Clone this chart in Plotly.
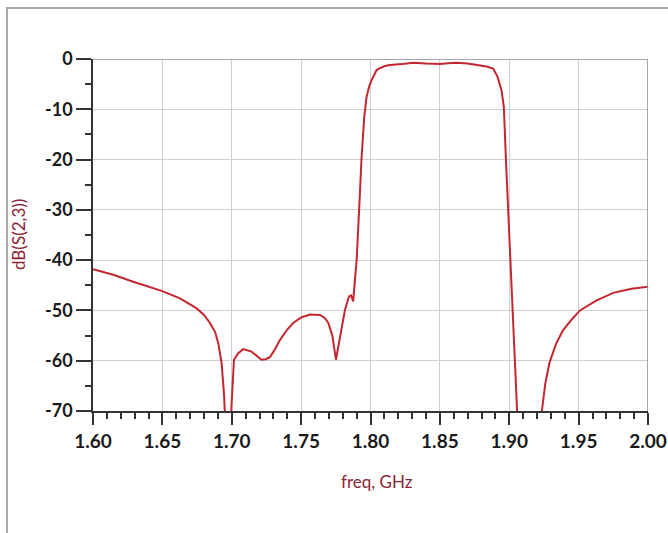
import plotly.graph_objects as go

freq = [1.6000, 1.6146, 1.6290, 1.6400, 1.6495, 1.6627, 1.6747, 1.6800, 1.6843, 1.6880, 1.6903,
        1.6927, 1.6945, 1.6965, 1.6985, 1.7000, 1.7016, 1.7047, 1.7083, 1.7143, 1.7180, 1.7215,
        1.7245, 1.7275, 1.7310, 1.7347, 1.7400, 1.7443, 1.7500, 1.7565, 1.7636, 1.7670, 1.7696,
        1.7725, 1.7751, 1.7785, 1.7816, 1.7845, 1.7860, 1.7875, 1.7888, 1.7900, 1.7918, 1.7935,
        1.7955, 1.7972, 1.7990, 1.8008, 1.8044, 1.8068, 1.8104, 1.8140, 1.8230, 1.8308, 1.8400,
        1.8500, 1.8560, 1.8620, 1.8700, 1.8788, 1.8836, 1.8884, 1.8915, 1.8944, 1.8961, 1.8976,
        1.8992, 1.9009, 1.9021, 1.9040, 1.9060, 1.9100, 1.9150, 1.9200, 1.9235, 1.9260, 1.9290,
        1.9335, 1.9386, 1.9450, 1.9510, 1.9630, 1.9750, 1.9880, 2.0000]
s23_db = [-41.8, -42.9, -44.3, -45.2, -46.1, -47.6, -49.6, -50.9, -52.5, -54.3, -56.5,
          -60.5, -67.0, -80.0, -78.0, -68.0, -59.8, -58.5, -57.7, -58.2, -59.0, -59.8,
          -59.7, -59.3, -57.8, -55.9, -53.8, -52.5, -51.4, -50.8, -50.9, -51.5, -52.5,
          -55.0, -59.8, -55.0, -49.9, -47.2, -47.0, -48.2, -44.5, -40.0, -30.0, -20.0,
          -11.5, -7.5, -5.5, -4.2, -2.2, -1.8, -1.4, -1.2, -1.0, -0.75, -0.9,
          -1.0, -0.85, -0.75, -0.9, -1.2, -1.5, -1.9, -3.5, -6.2, -9.5, -20.0,
          -30.0, -40.0, -48.0, -60.0, -72.0, -85.0, -90.0, -80.0, -70.0, -64.5, -60.4,
          -56.8, -54.0, -51.8, -50.0, -48.0, -46.5, -45.7, -45.3]

x_ticks = [1.60, 1.65, 1.70, 1.75, 1.80, 1.85, 1.90, 1.95, 2.00]
x_ticktext = ["1.60", "1.65", "1.70", "1.75", "1.80", "1.85", "1.90", "1.95", "2.00"]
y_ticks = [0, -10, -20, -30, -40, -50, -60, -70]
y_ticktext = ["0", "-10", "-20", "-30", "-40", "-50", "-60", "-70"]

maroon = "#8B2434"
fam = "Lato, Liberation Sans, sans-serif"
xtickfont = dict(family=fam, size=19, color="#1a1a1a", weight="bold")
ytickfont = dict(family=fam, size=18, color="#1a1a1a", weight="bold")

fig = go.Figure()
fig.add_trace(go.Scatter(x=freq, y=s23_db, mode="lines",
                         line=dict(color="#C4262E", width=2), showlegend=False))

fig.update_layout(
    width=668, height=533,
    margin=dict(l=93, r=20, t=59, b=122, autoexpand=False),
    paper_bgcolor="white", plot_bgcolor="white",
    xaxis=dict(range=[1.6, 2.0], tickvals=x_ticks, ticktext=x_ticktext,
               automargin=False,
               showgrid=True, gridcolor="#cfcfcf", gridwidth=1,
               showline=True, linecolor="#333333", linewidth=1.5,
               ticks="outside", ticklen=12, tickwidth=1.5, tickcolor="#333333",
               minor=dict(dtick=0.01, ticks="outside", ticklen=6, tickwidth=1.5,
                          tickcolor="#333333", showgrid=False),
               tickfont=xtickfont, zeroline=False),
    yaxis=dict(range=[-70, 0], tickvals=y_ticks, ticktext=y_ticktext,
               automargin=False,
               showgrid=True, gridcolor="#cfcfcf", gridwidth=1,
               showline=True, linecolor="#333333", linewidth=1.5,
               ticks="outside", ticklen=15, tickwidth=1.5, tickcolor="#333333",
               minor=dict(dtick=5, ticks="outside", ticklen=6, tickwidth=1.5,
                          tickcolor="#333333", showgrid=False),
               tickfont=ytickfont, zeroline=False),
    annotations=[
        dict(text="freq, GHz", xref="paper", yref="paper", x=0.5117, y=-0.199,
             showarrow=False, xanchor="center", yanchor="middle",
             font=dict(family=fam, size=17, color=maroon)),
        dict(text="dB(S(2,3))", xref="paper", yref="paper", x=-0.1351, y=0.5,
             showarrow=False, xanchor="center", yanchor="middle", textangle=-90,
             font=dict(family=fam, size=17, color=maroon)),
    ],
    shapes=[
        dict(type="line", xref="x", yref="y", x0=1.6, x1=2.0, y0=0, y1=0,
             line=dict(color="#8a8a8a", width=1.5)),
        dict(type="line", xref="x", yref="y", x0=2.0, x1=2.0, y0=-70, y1=0,
             line=dict(color="#8a8a8a", width=1.5)),
        dict(type="rect", xref="paper", yref="paper", x0=-0.155, x1=1.2, y0=-0.45, y1=1.145,
             line=dict(color="#a8a8a8", width=2), layer="below"),
    ],
)

fig.write_html("out.html")
